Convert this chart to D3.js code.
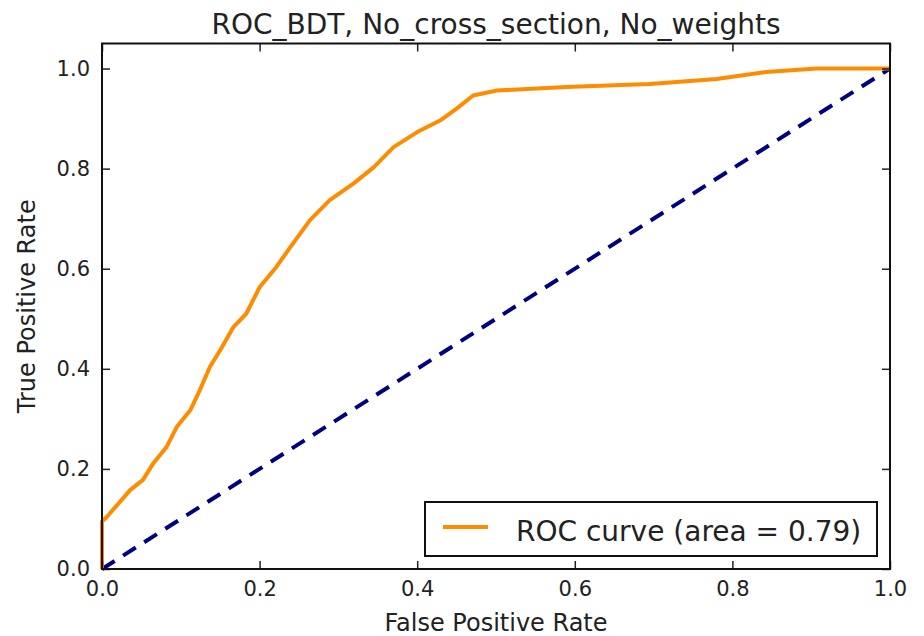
<!DOCTYPE html>
<html>
<head>
<meta charset="utf-8">
<script src="https://cdn.jsdelivr.net/npm/d3@7"></script>
<style>
  body { margin: 0; background: #fff; }
  text { font-family: "DejaVu Sans", sans-serif; fill: #222; }
</style>
</head>
<body>
<div id="chart"></div>
<script>
// ROC curve
const fpr = [0, 0, 0.006, 0.036, 0.052, 0.065, 0.082, 0.095, 0.112, 0.124, 0.137, 0.150, 0.167, 0.183,
  0.200, 0.221, 0.239, 0.264, 0.289, 0.319, 0.345, 0.370, 0.400, 0.429, 0.450, 0.471, 0.501,
  0.589, 0.695, 0.780, 0.843, 0.907, 1.0]
const tpr = [0, 0.095, 0.104, 0.158, 0.178, 0.211, 0.244, 0.284, 0.317, 0.357, 0.404, 0.437, 0.484, 0.510,
  0.563, 0.603, 0.643, 0.697, 0.737, 0.770, 0.803, 0.843, 0.873, 0.896, 0.920, 0.946, 0.956,
  0.963, 0.969, 0.979, 0.993, 1.0, 1.0]
const chance = [0, 1]
const ticks = [0, 0.2, 0.4, 0.6, 0.8, 1.0]
const title = "ROC_BDT, No_cross_section, No_weights"
const legendLabel = "ROC curve (area = 0.79)"

const W = 924, H = 636
const margin = {top: 43.5, right: 34, bottom: 67, left: 102}
const width = W - margin.left - margin.right,
      height = H - margin.top - margin.bottom

const svg = d3.select("#chart")
  .append("svg")
    .attr("width", W)
    .attr("height", H)

const g = svg.append("g")
    .attr("transform", `translate(${margin.left},${margin.top})`)

const x = d3.scaleLinear().domain([0, 1]).range([0, width])
const y = d3.scaleLinear().domain([0, 1.05]).range([height, 0])

// chance diagonal
g.append("path")
  .datum(chance)
  .attr("d", d3.line().x(d => x(d)).y(d => y(d)))
  .attr("fill", "none")
  .attr("stroke", "#000080")
  .attr("stroke-width", 4)
  .attr("stroke-dasharray", "15,10")

// roc curve
const pts = fpr.map((f, i) => [f, tpr[i]])
g.append("path")
  .datum(pts)
  .attr("d", d3.line().x(d => x(d[0])).y(d => y(d[1])))
  .attr("fill", "none")
  .attr("stroke", "#ff8c00")
  .attr("stroke-width", 4)
  .attr("stroke-linejoin", "round")

// axes, ticks pointing inward on every side
const tickLen = 8
const xb = g.append("g").attr("transform", `translate(0,${height})`)
  .call(d3.axisBottom(x).tickValues(ticks).tickSize(-tickLen).tickPadding(12).tickFormat(d3.format(".1f")))
const xt = g.append("g")
  .call(d3.axisTop(x).tickValues(ticks).tickSize(-tickLen).tickFormat(""))
const yl = g.append("g")
  .call(d3.axisLeft(y).tickValues(ticks).tickSize(-tickLen).tickPadding(12).tickFormat(d3.format(".1f")))
const yr = g.append("g").attr("transform", `translate(${width},0)`)
  .call(d3.axisRight(y).tickValues(ticks).tickSize(-tickLen).tickFormat(""))

for (const a of [xb, xt, yl, yr]) {
  a.select(".domain").remove()
  a.selectAll(".tick line").attr("stroke", "#222").attr("stroke-width", 1.5)
  a.selectAll(".tick text").attr("font-size", 21).attr("fill", "#222")
    .attr("font-family", "DejaVu Sans, sans-serif")
}

// frame
g.append("rect")
  .attr("width", width)
  .attr("height", height)
  .attr("fill", "none")
  .attr("stroke", "#111")
  .attr("stroke-width", 2)

// title and labels
svg.append("text")
  .attr("x", margin.left + width / 2)
  .attr("y", 34)
  .attr("text-anchor", "middle")
  .attr("font-size", 28)
  .text(title)

svg.append("text")
  .attr("x", margin.left + width / 2)
  .attr("y", 631)
  .attr("text-anchor", "middle")
  .attr("font-size", 24)
  .text("False Positive Rate")

svg.append("text")
  .attr("transform", `translate(35,${margin.top + height / 2}) rotate(-90)`)
  .attr("text-anchor", "middle")
  .attr("font-size", 24)
  .text("True Positive Rate")

// legend
const lg = svg.append("g").attr("transform", "translate(425,502)")
lg.append("rect")
  .attr("width", 452)
  .attr("height", 54)
  .attr("fill", "#fff")
  .attr("stroke", "#111")
  .attr("stroke-width", 2)
lg.append("line")
  .attr("x1", 18).attr("x2", 63)
  .attr("y1", 25).attr("y2", 25)
  .attr("stroke", "#ff8c00")
  .attr("stroke-width", 4)
lg.append("text")
  .attr("x", 91)
  .attr("y", 39)
  .attr("font-size", 28)
  .text(legendLabel)
</script>
</body>
</html>
